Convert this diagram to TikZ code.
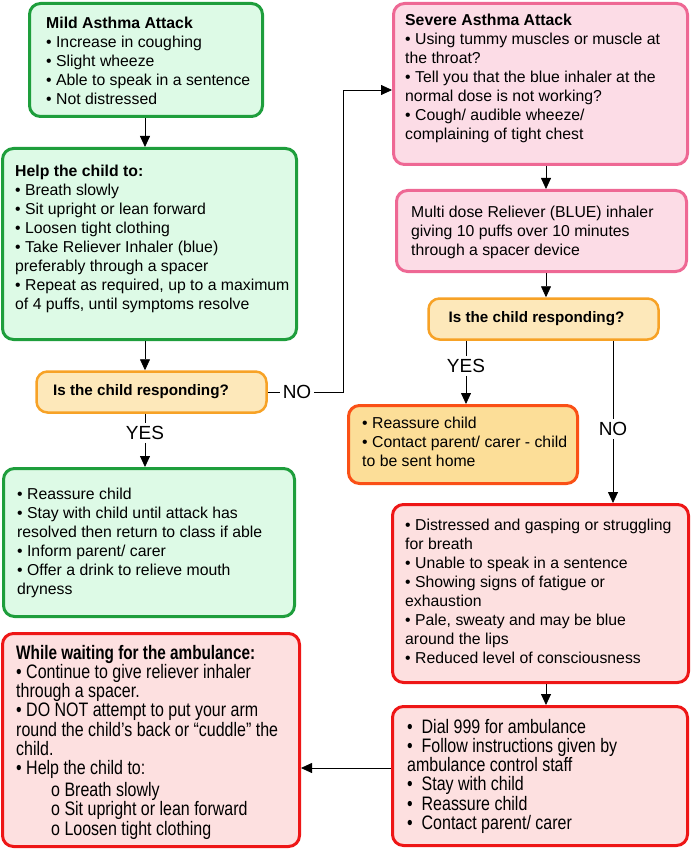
\documentclass[tikz,border=0pt]{standalone}
\usepackage{fontspec}
\setmainfont{Liberation Sans}
\newfontfamily\narrowfont[FakeStretch=0.82,BoldFeatures={FakeStretch=0.785}]{Liberation Sans}
\usepackage{xcolor}
\usepackage{tikz}
\usetikzlibrary{arrows.meta}
\definecolor{grnline}{RGB}{30,158,60}
\definecolor{grnfill}{RGB}{221,250,230}
\definecolor{orgline}{RGB}{247,162,38}
\definecolor{orgfill}{RGB}{253,232,186}
\definecolor{homeline}{RGB}{250,80,22}
\definecolor{homefill}{RGB}{252,222,152}
\definecolor{pnkline}{RGB}{238,104,148}
\definecolor{pnkfill}{RGB}{252,220,230}
\definecolor{redline}{RGB}{238,22,22}
\definecolor{redfill}{RGB}{253,224,224}
\newcommand{\bodyfont}{\fontsize{15.8}{19}\selectfont}
\newcommand{\askfont}{\fontsize{15.2}{19}\selectfont\bfseries}
\newcommand{\narrowbody}{\narrowfont\fontsize{19.5}{19.2}\selectfont}
\newcommand{\lblfont}{\fontsize{19}{22}\selectfont}

\begin{document}
\begin{tikzpicture}[x=1pt,y=-1pt,
  box/.style={draw,line width=3pt,rounded corners=11pt,inner sep=0pt},
  greenbox/.style={box,draw=grnline,fill=grnfill},
  askbox/.style={box,line width=2.5pt,draw=orgline,fill=orgfill},
  homebox/.style={box,draw=homeline,fill=homefill},
  pinkbox/.style={box,draw=pnkline,fill=pnkfill},
  redbox/.style={box,draw=redline,fill=redfill},
  txt/.style={anchor=north west,inner sep=0pt,align=left,font=\bodyfont},
  ntxt/.style={txt,font=\narrowbody},
  lbl/.style={inner sep=3pt,font=\lblfont},
  arr/.style={-{Triangle[length=11pt,width=10pt]},line width=0.8pt}]
\useasboundingbox (0,0) rectangle (690,850);

% left column
\node[greenbox,minimum width=233pt,minimum height=113pt] (mild) at (146,60) {};
\node[txt] (mildtxt) at (46,16.5) {\textbf{Mild Asthma Attack}\\
  • Increase in coughing\\• Slight wheeze\\
  • Able to speak in a sentence\\• Not distressed};
\node[greenbox,minimum width=294pt,minimum height=191pt] (help) at (149.5,244) {};
\node[txt] (helptxt) at (15,164.5) {\textbf{Help the child to:}\\
  • Breath slowly\\• Sit upright or lean forward\\• Loosen tight clothing\\
  • Take Reliever Inhaler (blue)\\preferably through a spacer\\
  • Repeat as required, up to a maximum\\of 4 puffs, until symptoms resolve};
\node[askbox,minimum width=230pt,minimum height=41pt] (q1) at (151.5,392) {};
\node[font=\askfont,inner sep=0pt] (q1txt) at (141,392) {Is the child responding?};
\node[greenbox,minimum width=291pt,minimum height=148pt] (reass1) at (149,542.5) {};
\node[txt] (reass1txt) at (17,487.5) {• Reassure child\\
  • Stay with child until attack has\\resolved then return to class if able\\
  • Inform parent/ carer\\• Offer a drink to relieve mouth\\dryness};
\node[redbox,minimum width=297pt,minimum height=213pt] (wait) at (151,740) {};
\node[ntxt] (waittxt) at (16,645) {\textbf{While waiting for the ambulance:}\\
  • Continue to give reliever inhaler\\through a spacer.\\
  • DO NOT attempt to put your arm\\round the child’s back or “cuddle” the\\child.\\
  • Help the child to:\\[3pt]
  \hspace*{35pt}o Breath slowly\\
  \hspace*{35pt}o Sit upright or lean forward\\
  \hspace*{35pt}o Loosen tight clothing};

% right column
\node[pinkbox,minimum width=294pt,minimum height=161pt] (severe) at (540.5,84) {};
\node[txt] (severetxt) at (405,13.5) {\textbf{Severe Asthma Attack}\\
  • Using tummy muscles or muscle at\\the throat?\\
  • Tell you that the blue inhaler at the\\normal dose is not working?\\
  • Cough/ audible wheeze/\\complaining of tight chest};
\node[pinkbox,minimum width=290pt,minimum height=81pt] (multi) at (541.5,231) {};
\node[txt] (multitxt) at (411,205.5) {Multi dose Reliever (BLUE) inhaler\\
  giving 10 puffs over 10 minutes\\through a spacer device};
\node[askbox,minimum width=230pt,minimum height=41pt] (q2) at (543.5,319) {};
\node[font=\askfont,inner sep=0pt] (q2txt) at (536.5,319) {Is the child responding?};
\node[homebox,minimum width=229pt,minimum height=78pt] (reass2) at (463,444.5) {};
\node[txt] (reass2txt) at (362,416.5) {• Reassure child\\
  • Contact parent/ carer - child\\to be sent home};
\node[redbox,minimum width=296pt,minimum height=178pt] (distr) at (540.5,593.5) {};
\node[txt] (distrtxt) at (405,518.5) {• Distressed and gasping or struggling\\
  for breath\\• Unable to speak in a sentence\\
  • Showing signs of fatigue or\\exhaustion\\
  • Pale, sweaty and may be blue\\around the lips\\
  • Reduced level of consciousness};
\node[redbox,minimum width=295pt,minimum height=139pt] (dial) at (540,776) {};
\node[ntxt] (dialtxt) at (407,719) {•\ \ Dial 999 for ambulance\\
  •\ \ Follow instructions given by\\ambulance control staff\\
  •\ \ Stay with child\\•\ \ Reassure child\\•\ \ Contact parent/ carer};

% labels
\node[lbl] (yes1) at (145,433) {YES};
\node[lbl] (no1) at (297,392) {NO};
\node[lbl] (yes2) at (466,366) {YES};
\node[lbl] (no2) at (613,429) {NO};

% connectors
\coordinate (lcol) at (145,0);
\coordinate (rcol) at (546,0);
\coordinate (bend) at (343,90);
\coordinate (ambl) at (0,768);
\draw[arr] (lcol |- mild.south) -- (lcol |- help.north);
\draw[arr] (lcol |- help.south) -- (lcol |- q1.north);
\draw[line width=0.8pt] (lcol |- q1.south) -- (yes1.north);
\draw[arr] (yes1.south) -- (lcol |- reass1.north);
\draw[line width=0.8pt] (q1.east) -- (no1.west);
\draw[arr] (no1.east) -| (bend) -- (bend -| severe.west);
\draw[arr] (rcol |- severe.south) -- (rcol |- multi.north);
\draw[arr] (rcol |- multi.south) -- (rcol |- q2.north);
\draw[line width=0.8pt] (yes2 |- q2.south) -- (yes2.north);
\draw[arr] (yes2.south) -- (yes2 |- reass2.north);
\draw[line width=0.8pt] (no2 |- q2.south) -- (no2.north);
\draw[arr] (no2.south) -- (no2 |- distr.north);
\draw[arr] (rcol |- distr.south) -- (rcol |- dial.north);
\draw[arr] (dial.west |- ambl) -- (wait.east |- ambl);
\end{tikzpicture}
\end{document}
